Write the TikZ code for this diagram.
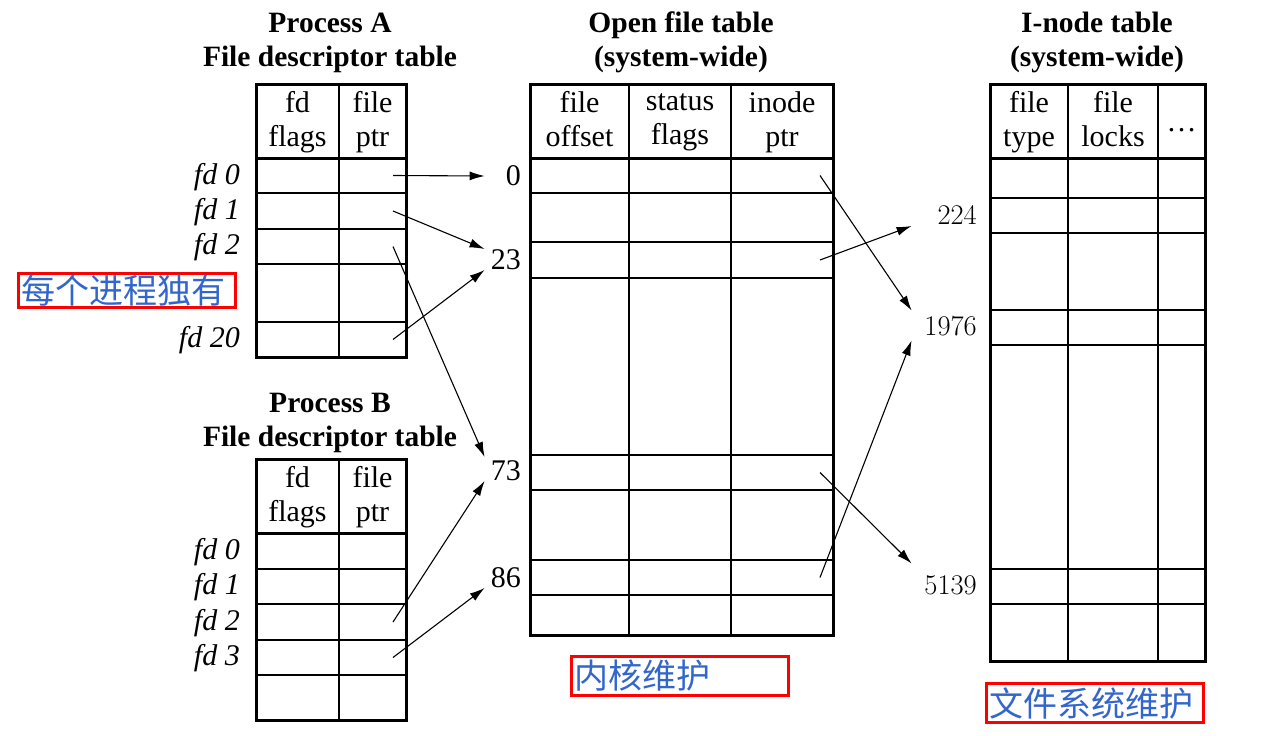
\documentclass[tikz,border=0pt]{standalone}
\usepackage{fontspec}
\usepackage{xcolor}
\usepackage{tikz}
\usetikzlibrary{calc,arrows.meta,positioning}
\newfontfamily\garfont{Liberation Serif}
\newfontfamily\cjkfont{Noto Sans CJK SC}
\definecolor{notered}{HTML}{FF0000}
\definecolor{noteblue}{HTML}{3366CC}
\tikzset{
  frame/.style={draw=black, line width=3pt},
  cell/.style={draw=black, line width=1.4pt},
  ptr/.style={draw=black, line width=1.1pt, -{Latex[length=15pt,width=9pt]}},
  ttl/.style={font=\garfont\bfseries\fontsize{29.5}{34}\selectfont, align=center,
    execute at begin node=\strut, execute at end node=\strut},
  hdr/.style={font=\garfont\fontsize{30}{34}\selectfont, align=center,
    execute at begin node=\strut, execute at end node=\strut},
  fdl/.style={font=\garfont\itshape\fontsize{30}{34}\selectfont, anchor=base east, inner sep=0pt},
  idxl/.style={font=\garfont\fontsize{30}{34}\selectfont, text width=30pt, align=right, inner xsep=6pt, anchor=east},
  idxr/.style={font=\fontsize{28.5}{34}\selectfont, text width=57pt, align=right, inner xsep=8pt, anchor=east},
  note/.style={draw=notered, line width=2.6pt, text=noteblue, font=\cjkfont\fontsize{34}{36}\selectfont,
    inner xsep=3pt, inner ysep=0pt, text width=211pt, align=left},
}

\begin{document}
\begin{tikzpicture}[x=1pt, y=-1pt]
\useasboundingbox (0,0) rectangle (1262,736);
% process A
\node[ttl] (ttlA) at (330,44.5) {Process A\\File descriptor table};
\foreach \y in {193,229,264,322} \draw[cell] (256,\y) -- (406,\y);
\draw[cell] (339,84) -- (339,357);
\draw[frame] (256,158) -- (406,158);
\draw[frame] (256,84) rectangle (406,357);
\node[hdr] (hA1) at (297.5,124.5) {fd\\flags};
\node[hdr] (hA2) at (372.5,124.5) {file\\ptr};
\node[fdl] (fdA0) at (240,184) {fd 0};
\node[fdl] (fdA1) at (240,219) {fd 1};
\node[fdl] (fdA2) at (240,254.5) {fd 2};
\node[fdl] (fdA20) at (240,347.5) {fd 20};
\coordinate (pA0) at (393,175.5);
\coordinate (pA1) at (393,211);
\coordinate (pA2) at (393,246.5);
\coordinate (pA20) at (393,339.5);
% process B
\node[ttl] (ttlB) at (330,424.5) {Process B\\File descriptor table};
\foreach \y in {569,604,640,675} \draw[cell] (256,\y) -- (406,\y);
\draw[cell] (339,459) -- (339,720);
\draw[frame] (256,533) -- (406,533);
\draw[frame] (256,459) rectangle (406,720);
\node[hdr] (hB1) at (297.5,499.5) {fd\\flags};
\node[hdr] (hB2) at (372.5,499.5) {file\\ptr};
\node[fdl] (fdB0) at (240,559) {fd 0};
\node[fdl] (fdB1) at (240,594.5) {fd 1};
\node[fdl] (fdB2) at (240,630) {fd 2};
\node[fdl] (fdB3) at (240,665.5) {fd 3};
\coordinate (pB2) at (393,622);
\coordinate (pB3) at (393,657.5);
% open file table
\node[ttl] (ttlO) at (681,44.5) {Open file table\\(system-wide)};
\foreach \y in {193,242,278,455,490,560,595} \draw[cell] (530,\y) -- (833,\y);
\foreach \x in {629,731} \draw[cell] (\x,84) -- (\x,635);
\draw[frame] (530,158) -- (833,158);
\draw[frame] (530,84) rectangle (833,635);
\node[hdr] (hO1) at (579.5,124.5) {file\\offset};
\node[hdr] (hO2) at (680,124.5) {status\\flags};
\node[hdr] (hO3) at (782,124.5) {inode\\ptr};
\node[idxl] (n0) at (527,176) {0};
\node[idxl] (n23) at (527,260) {23};
\node[idxl] (n73) at (527,471) {73};
\node[idxl] (n86) at (527,578) {86};
\coordinate (o0) at (820,175.5);
\coordinate (o23) at (820,260);
\coordinate (o73) at (820,472.5);
\coordinate (o86) at (820,577.5);
% i-node table
\node[ttl] (ttlI) at (1097,44.5) {I-node table\\(system-wide)};
\foreach \y in {198,233,310,345,569,604} \draw[cell] (990,\y) -- (1205,\y);
\foreach \x in {1068,1158} \draw[cell] (\x,84) -- (\x,661);
\draw[frame] (990,158) -- (1205,158);
\draw[frame] (990,84) rectangle (1205,661);
\node[hdr] (hI1) at (1029,124.5) {file\\type};
\node[hdr] (hI2) at (1113,124.5) {file\\locks};
\node[hdr] (hI3) at (1181.5,125) {\dots};
\node[idxr] (n224) at (985,215) {224};
\node[idxr] (n1976) at (985,326.5) {1976};
\node[idxr] (n5139) at (985,585.5) {5139};
% pointers
\draw[ptr] (pA0) -- (n0.west);
\draw[ptr] (pA1) -- ($(n23.west)+(0,-11)$);
\draw[ptr] (pA20) -- ($(n23.west)+(0,10)$);
\draw[ptr] (pA2) -- ($(n73.west)+(0,-14)$);
\draw[ptr] (pB2) -- ($(n73.west)+(0,10)$);
\draw[ptr] (pB3) -- ($(n86.west)+(0,10)$);
\draw[ptr] (o0) -- ($(n1976.west)+(0,-16)$);
\draw[ptr] (o23) -- ($(n224.west)+(0,11)$);
\draw[ptr] (o73) -- ($(n5139.west)+(0,-22)$);
\draw[ptr] (o86) -- ($(n1976.west)+(0,14)$);
% notes
\node[note, minimum height=34.4pt] (noteA) at (127,290.5) {每个进程独有};
\node[note, minimum height=39.4pt] (noteK) at (680,676) {内核维护};
\node[note, minimum height=39.4pt] (noteF) at (1095,703) {文件系统维护};
\end{tikzpicture}
\end{document}
